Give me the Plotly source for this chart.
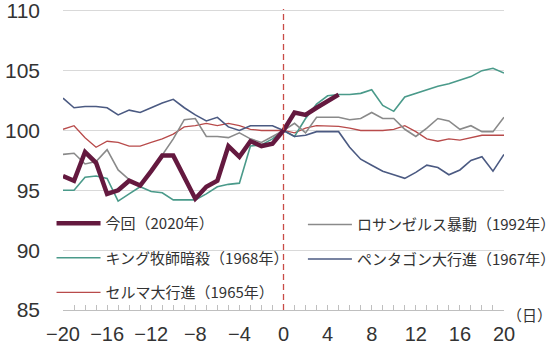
import plotly.graph_objects as go

days = list(range(-20, 21))
days_now = list(range(-20, 6))

now_2020 = [96.2, 95.8, 98.2, 97.3, 94.7, 95.0, 95.8, 95.4, 96.6, 97.9, 97.9, 96.1, 94.3,
            95.3, 95.8, 98.7, 97.8, 99.1, 98.7, 98.9, 100.0, 101.5, 101.3, 101.9, 102.4, 103.0]
la_1992 = [98.0, 98.1, 97.2, 97.4, 98.4, 96.7, 95.9, 95.3, 96.6, 97.9, 99.3, 100.9, 101.0,
           99.5, 99.5, 99.4, 99.8, 99.3, 99.0, 99.5, 100.0,
           100.6, 99.8, 101.1, 101.1, 101.1, 100.9, 101.0, 101.5, 101.0, 101.0,
           100.1, 99.5, 100.2, 101.0, 100.8, 100.1, 100.4, 99.9, 99.9, 101.1]
king_1968 = [95.0, 95.0, 96.1, 96.2, 96.0, 94.1, 94.7, 95.3, 94.9, 94.8, 94.2, 94.2, 94.2,
             94.7, 95.3, 95.5, 95.6, 98.7, 98.8, 99.3, 100.0,
             99.5, 101.0, 102.2, 102.9, 103.0, 103.0, 103.1, 103.4, 102.1, 101.6,
             102.8, 103.1, 103.4, 103.7, 103.9, 104.2, 104.5, 105.0, 105.2, 104.8]
pentagon_1967 = [102.7, 101.9, 102.0, 102.0, 101.9, 101.3, 101.7, 101.5, 101.9, 102.3, 102.6,
                 101.9, 101.3, 100.8, 101.1, 100.3, 100.0, 100.4, 100.4, 100.4, 100.0,
                 99.5, 99.6, 99.9, 99.9, 99.9, 98.6, 97.6, 97.1, 96.6, 96.3,
                 96.0, 96.5, 97.1, 96.9, 96.3, 96.7, 97.5, 97.8, 96.6, 98.0]
selma_1965 = [100.1, 100.4, 99.4, 98.6, 99.1, 99.0, 98.7, 98.7, 99.0, 99.3, 99.7, 100.3,
              100.4, 100.6, 100.4, 100.6, 100.4, 100.1, 100.0, 100.0, 100.0,
              99.8, 100.2, 100.4, 100.4, 100.35, 100.2, 100.0, 100.0, 100.0, 100.1,
              100.4, 99.9, 99.3, 99.1, 99.3, 99.2, 99.4, 99.6, 99.6, 99.6]

names = {
    "now": "今回（2020年）",
    "la": "ロサンゼルス暴動（1992年）",
    "king": "キング牧師暗殺（1968年）",
    "pent": "ペンタゴン大行進（1967年）",
    "selma": "セルマ大行進（1965年）",
}
x_ticks = list(range(-20, 21, 4))
y_ticks = [85, 90, 95, 100, 105, 110]

FONT = "Noto Sans CJK JP"
NUM_FONT = "Liberation Sans"

fig = go.Figure()
# drawing order (bottom -> top); legend order set by legendrank
fig.add_trace(go.Scatter(x=days, y=selma_1965, mode="lines", name=names["selma"],
                         line=dict(color="#B84A4A", width=1.3), legend="legend",
                         legendgroup="g5", legendrank=3))
fig.add_trace(go.Scatter(x=days, y=king_1968, mode="lines", name=names["king"],
                         line=dict(color="#4A9A8A", width=1.6), legend="legend",
                         legendgroup="g3", legendrank=2))
fig.add_trace(go.Scatter(x=days, y=pentagon_1967, mode="lines", name=names["pent"],
                         line=dict(color="#4B5A82", width=1.6), legend="legend2",
                         legendgroup="g4", legendrank=2))
fig.add_trace(go.Scatter(x=days, y=la_1992, mode="lines", name=names["la"],
                         line=dict(color="#8A8A8A", width=1.6), legend="legend2",
                         legendgroup="g2", legendrank=1))
fig.add_trace(go.Scatter(x=days_now, y=now_2020, mode="lines", name=names["now"],
                         line=dict(color="#64193F", width=4.5), legend="legend",
                         legendgroup="g1", legendrank=1))

fig.add_shape(type="line", xref="x", yref="paper", x0=0, x1=0, y0=0, y1=1,
              line=dict(color="#C84B47", width=1.3, dash="6px,4px"))

fig.add_annotation(text="（日）", xref="paper", yref="paper", x=1.058, y=-0.016,
                   showarrow=False, font=dict(family=FONT, size=15, color="#333333"),
                   xanchor="center", yanchor="middle")

legend_common = dict(font=dict(family=FONT, size=15, color="#333333"),
                     bgcolor="rgba(0,0,0,0)", tracegroupgap=12,
                     traceorder="grouped",
                     itemwidth=44, xanchor="left", yanchor="top")

fig.update_layout(
    template="none",
    width=550, height=348,
    margin=dict(l=63, r=46, t=9, b=38, autoexpand=False),
    paper_bgcolor="white", plot_bgcolor="white",
    font=dict(family=FONT, color="#333333"),
    showlegend=True,
    legend=dict(x=-0.026, y=0.342, **legend_common),
    legend2=dict(x=0.544, y=0.338, **legend_common),
    xaxis=dict(range=[-20, 20], tickvals=x_ticks, showgrid=False, zeroline=False,
               showline=True, linecolor="#BFBFBF", linewidth=1,
               ticks="inside", ticklen=5, tickcolor="#BFBFBF",
               minor=dict(dtick=1, ticks="inside", ticklen=5, tickcolor="#BFBFBF"),
               tickfont=dict(family=NUM_FONT, size=20, color="#333333"),
               ticklabelstandoff=6, automargin=False),
    yaxis=dict(range=[85, 110.15], tickvals=y_ticks, showgrid=True, gridcolor="#D9D9D9",
               gridwidth=1, zeroline=False, showline=False, ticks="",
               tickfont=dict(family=NUM_FONT, size=21, color="#333333"),
               ticklabelstandoff=22, ticklabeloverflow="allow", automargin=False),
)

fig.write_html("out.html")
